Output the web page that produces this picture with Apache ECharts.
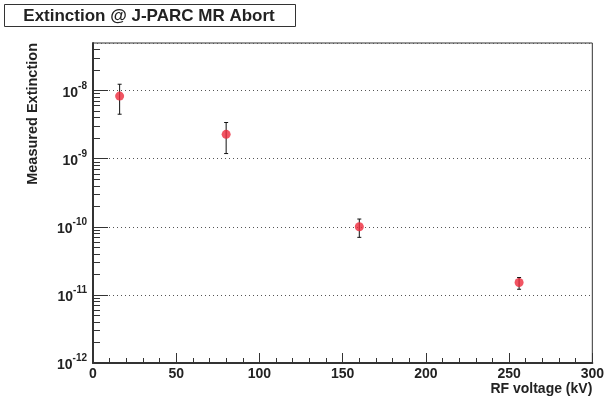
<!DOCTYPE html>
<html>
<head>
<meta charset="utf-8">
<script src="https://cdn.jsdelivr.net/npm/echarts@6/dist/echarts.min.js"></script>
<style>
html, body { margin: 0; padding: 0; background: #fff; }
#chart { width: 607px; height: 400px; }
</style>
</head>
<body>
<div id="chart"></div>
<script>
// DATA
const voltage = [16, 80, 160, 256];
const extinction = [8.3e-9, 2.28e-9, 1.0e-10, 1.52e-11];
const errLow = [4.5e-9, 1.19e-9, 7.0e-11, 1.21e-11];
const errHigh = [1.24e-8, 3.4e-9, 1.3e-10, 1.8e-11];

const decadeExps = [-12, -11, -10, -9, -8];
const minorSteps = [2, 3, 4, 5, 6, 7, 8, 9];

const yMin = 1e-12;
const yMax = 5e-8;

// tick helper axes work in exponent space (log10 of the value)
const expMin = Math.log10(yMin);
const expMax = Math.log10(yMax);
const minorExps = [];
decadeExps.forEach(e => {
    minorSteps.forEach(m => {
        const v = e + Math.log10(m);
        if (v < expMax) minorExps.push(v);
    });
});

const font = '"Liberation Sans", Arial, Helvetica, sans-serif';
const axisColor = '#333';

const chart = echarts.init(document.querySelector('#chart'));

function tickAxis(values, length) {
    return {
        type: 'value',
        min: expMin,
        max: expMax,
        position: 'left',
        axisLine: { show: false },
        axisTick: {
            show: true,
            inside: true,
            length: length,
            customValues: values,
            lineStyle: { color: axisColor }
        },
        axisLabel: { show: false },
        splitLine: { show: false }
    };
}

const option = {
    animation: false,
    grid: {
        left: 93,
        right: 13,
        top: 43,
        bottom: 37,
        show: true,
        borderColor: axisColor,
        borderWidth: 1
    },
    graphic: [
        {
            type: 'rect',
            shape: { x: 4.5, y: 4.5, width: 291, height: 22 },
            style: { fill: '#fff', stroke: axisColor, lineWidth: 1 }
        },
        {
            type: 'text',
            x: 149,
            y: 16,
            style: {
                text: 'Extinction @ J-PARC MR Abort',
                font: 'bold 17px ' + font,
                fill: '#222',
                align: 'center',
                verticalAlign: 'middle'
            }
        },
        {
            type: 'text',
            x: 33,
            y: 43,
            rotation: Math.PI / 2,
            style: {
                text: 'Measured Extinction',
                font: 'bold 14.5px ' + font,
                fill: '#222',
                align: 'right',
                verticalAlign: 'middle'
            }
        }
    ],
    xAxis: {
        type: 'value',
        min: 0,
        max: 300,
        interval: 50,
        name: 'RF voltage (kV)',
        nameLocation: 'end',
        nameGap: 0,
        nameTextStyle: {
            fontFamily: font,
            fontWeight: 'bold',
            fontSize: 14,
            color: '#222',
            align: 'right',
            verticalAlign: 'top',
            padding: [19, 0, 0, 0]
        },
        axisLine: { show: true, lineStyle: { color: axisColor, width: 2 } },
        axisTick: { show: true, inside: true, length: 10, lineStyle: { color: axisColor } },
        minorTick: { show: true, splitNumber: 5, length: 5, lineStyle: { color: axisColor } },
        axisLabel: {
            fontFamily: font,
            fontWeight: 'bold',
            fontSize: 14,
            color: '#222',
            margin: 4
        },
        splitLine: { show: false }
    },
    yAxis: [
        {
            type: 'log',
            logBase: 10,
            min: yMin,
            max: yMax,
            axisLine: { show: true, lineStyle: { color: axisColor, width: 2 } },
            axisTick: { show: false },
            axisLabel: {
                margin: 6,
                showMaxLabel: false,
                formatter: function (value) {
                    const e = Math.round(Math.log10(value));
                    if (Math.abs(Math.log10(value) - e) > 1e-6) return '';
                    return '{b|10}{s|' + e + '}';
                },
                rich: {
                    b: { fontFamily: font, fontWeight: 'bold', fontSize: 14, color: '#222', padding: [5, 0, 0, 0] },
                    s: { fontFamily: font, fontWeight: 'bold', fontSize: 10, color: '#222', verticalAlign: 'top' }
                }
            },
            splitLine: {
                show: true,
                lineStyle: { color: '#555', width: 1, type: [1, 3] }
            }
        },
        tickAxis(minorExps, 7),
        tickAxis(decadeExps, 15)
    ],
    series: [
        {
            name: 'error',
            type: 'custom',
            data: voltage.map((v, i) => [v, errLow[i], errHigh[i]]),
            renderItem: function (params, api) {
                const lo = api.coord([api.value(0), api.value(1)]);
                const hi = api.coord([api.value(0), api.value(2)]);
                const cap = 2;
                const style = { stroke: '#111', lineWidth: 1 };
                return {
                    type: 'group',
                    children: [
                        { type: 'line', shape: { x1: lo[0], y1: lo[1], x2: hi[0], y2: hi[1] }, style: style },
                        { type: 'line', shape: { x1: lo[0] - cap, y1: lo[1], x2: lo[0] + cap, y2: lo[1] }, style: style },
                        { type: 'line', shape: { x1: hi[0] - cap, y1: hi[1], x2: hi[0] + cap, y2: hi[1] }, style: style }
                    ]
                };
            },
            z: 2
        },
        {
            name: 'Extinction',
            type: 'scatter',
            data: voltage.map((v, i) => [v, extinction[i]]),
            symbol: 'circle',
            symbolSize: 9,
            itemStyle: { color: '#ee2a3c' },
            z: 3
        }
    ]
};

chart.setOption(option);
</script>
</body>
</html>
